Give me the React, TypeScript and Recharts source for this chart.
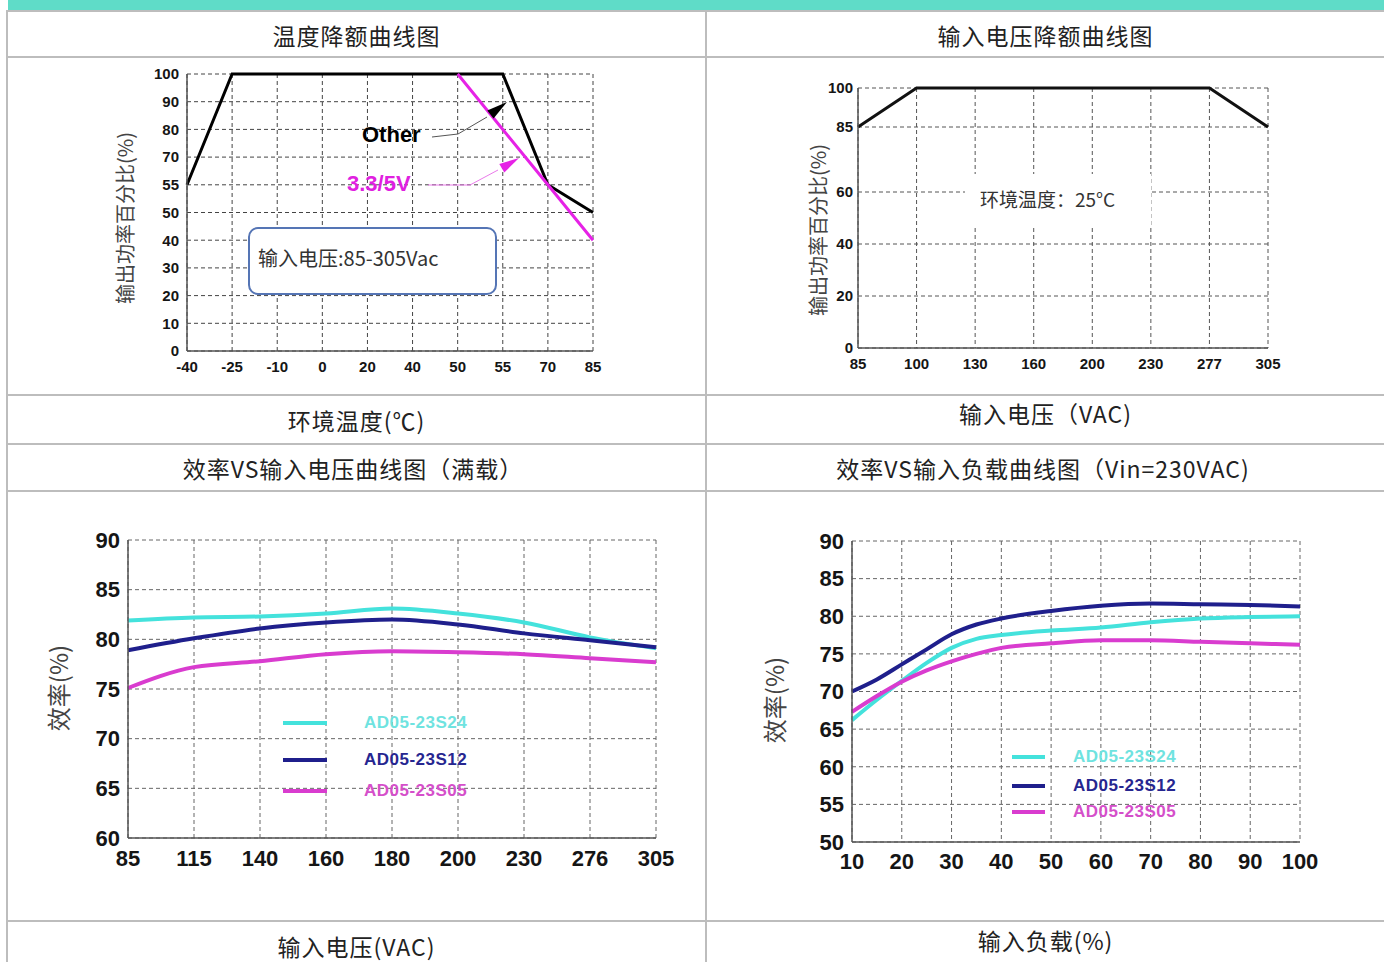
import React from "react";
import { CartesianGrid, Line, LineChart, XAxis, YAxis } from "recharts";

// 温度降额曲线图
const tempTicks = [-40, -25, -10, 0, 20, 40, 50, 55, 70, 85];
// the original labels the 60 gridline "55"; values below are read on that uniform grid
const tempYTicks = [0, 10, 20, 30, 40, 50, 60, 70, 80, 90, 100];
const tempYLabels = ["0", "10", "20", "30", "40", "50", "55", "70", "80", "90", "100"];
const tempOther = [60, 100, 100, 100, 100, 100, 100, 100, 60, 50];
const temp33 = [null, null, null, null, null, null, 100, null, 60, 40];

// 输入电压降额曲线图
const vinTicks = [85, 100, 130, 160, 200, 230, 277, 305];
const vinYTicks = [0, 20, 40, 60, 85, 100];
const vinPower = [85, 100, 100, 100, 100, 100, 100, 85];

// 效率VS输入电压
const effVinTicks = [85, 115, 140, 160, 180, 200, 230, 276, 305];
const effVinYTicks = [60, 65, 70, 75, 80, 85, 90];
const effVin24 = [81.9, 82.2, 82.3, 82.6, 83.1, 82.6, 81.7, 80.2, 79.1];
const effVin12 = [78.9, 80.1, 81.1, 81.7, 82.0, 81.5, 80.6, 79.9, 79.2];
const effVin05 = [75.1, 77.2, 77.8, 78.5, 78.8, 78.7, 78.5, 78.1, 77.7];

// 效率VS输入负载
const loadX = [10, 15, 20, 25, 30, 35, 40, 50, 60, 70, 80, 90, 100];
const loadTicks = [10, 20, 30, 40, 50, 60, 70, 80, 90, 100];
const loadYTicks = [50, 55, 60, 65, 70, 75, 80, 85, 90];
const load24 = [66.2, 68.9, 71.4, 73.8, 75.8, 77.0, 77.5, 78.1, 78.5, 79.2, 79.7, 79.9, 80.0];
const load12 = [70.0, 71.6, 73.6, 75.6, 77.6, 78.9, 79.7, 80.7, 81.4, 81.7, 81.6, 81.5, 81.3];
const load05 = [67.3, 69.4, 71.3, 72.8, 74.0, 75.0, 75.8, 76.4, 76.8, 76.8, 76.6, 76.4, 76.2];

const series = [
  { key: "s24", name: "AD05-23S24", color: "#44e2dc", text: "#6fe3e0" },
  { key: "s12", name: "AD05-23S12", color: "#1f1f8c", text: "#262690" },
  { key: "s05", name: "AD05-23S05", color: "#d93ccf", text: "#d54fca" },
];

const tempRows = tempTicks.map((t, i) => ({ t, other: tempOther[i], v33: temp33[i] }));
const vinRows = vinTicks.map((v, i) => ({ v, p: vinPower[i] }));
const effVinRows = effVinTicks.map((v, i) => ({ v, s24: effVin24[i], s12: effVin12[i], s05: effVin05[i] }));
const loadRows = loadX.map((l, i) => ({ l, s24: load24[i], s12: load12[i], s05: load05[i] }));

const BORDER = "#bdbdbd";
const cjk = "'Noto Sans CJK SC', 'Noto Sans', sans-serif";
const latin = "'Liberation Sans', Arial, sans-serif";

const smallTick = { fontSize: 15, fontWeight: 700, fill: "#151515", fontFamily: latin };
const bigTick = { fontSize: 22, fontWeight: 700, fill: "#151515", fontFamily: latin };
const axisLine = { stroke: "#555", strokeWidth: 1.5 };

function Cell({ left, width, top, text }: { left: number; width: number; top: number; text: string }) {
  return (
    <div
      style={{
        position: "absolute",
        left,
        width,
        top,
        textAlign: "center",
        fontFamily: cjk,
        fontSize: 23,
        lineHeight: "30px",
        color: "#222",
        letterSpacing: 1,
        whiteSpace: "nowrap",
      }}
    >
      {text}
    </div>
  );
}

function VTitle({ x, y, size, text }: { x: number; y: number; size: number; text: string }) {
  return (
    <div
      style={{
        position: "absolute",
        left: x,
        top: y,
        transform: "translate(-50%, -50%) rotate(-90deg)",
        fontFamily: cjk,
        fontSize: size,
        color: "#444",
        whiteSpace: "nowrap",
      }}
    >
      {text}
    </div>
  );
}

function Legend({ x, y, gaps, len, offset }: { x: number; y: number; gaps: number[]; len: number; offset: number }) {
  return (
    <>
      {series.map((s, i) => (
        <React.Fragment key={s.key}>
          <div
            style={{
              position: "absolute",
              left: x,
              top: y + gaps[i] - 2,
              width: len,
              height: 4,
              background: s.color,
            }}
          />
          <div
            style={{
              position: "absolute",
              left: x + offset,
              top: y + gaps[i] - 11,
              fontFamily: latin,
              fontWeight: 700,
              fontSize: 17,
              lineHeight: "22px",
              color: s.text,
              letterSpacing: 0.5,
            }}
          >
            {s.name}
          </div>
        </React.Fragment>
      ))}
    </>
  );
}

function TempChart() {
  return (
    <div style={{ position: "absolute", left: 140, top: 60 }}>
      <LineChart width={473} height={321} data={tempRows} margin={{ top: 14, right: 20, left: 0, bottom: 0 }}>
        <CartesianGrid stroke="#444" strokeDasharray="4 3" />
        <XAxis dataKey="t" type="category" scale="point" interval={0} height={30} tickLine={false} tickMargin={4} axisLine={axisLine} tick={smallTick} />
        <YAxis
          type="number"
          domain={[0, 100]}
          ticks={tempYTicks}
          interval={0}
          tickFormatter={(v: number) => tempYLabels[tempYTicks.indexOf(v)]}
          width={47}
          tickLine={false}
          axisLine={axisLine}
          tick={smallTick}
        />
        <Line type="linear" dataKey="other" stroke="#000" strokeWidth={3} dot={false} isAnimationActive={false} />
        <Line type="linear" dataKey="v33" stroke="#e622e6" strokeWidth={3} dot={false} connectNulls isAnimationActive={false} />
      </LineChart>
    </div>
  );
}

function VinChart() {
  return (
    <div style={{ position: "absolute", left: 808, top: 74 }}>
      <LineChart width={480} height={304} data={vinRows} margin={{ top: 14, right: 20, left: 0, bottom: 0 }}>
        <CartesianGrid stroke="#555" strokeDasharray="4 3" />
        <XAxis dataKey="v" type="category" scale="point" interval={0} height={30} tickLine={false} tickMargin={4} axisLine={axisLine} tick={smallTick} />
        <YAxis
          type="number"
          domain={[0, 100]}
          ticks={vinYTicks}
          interval={0}
          width={50}
          tickLine={false}
          tickSize={4}
          tickMargin={1}
          axisLine={axisLine}
          tick={smallTick}
        />
        <Line type="linear" dataKey="p" stroke="#111" strokeWidth={3} dot={false} isAnimationActive={false} />
      </LineChart>
    </div>
  );
}

function EffVinChart() {
  return (
    <div style={{ position: "absolute", left: 70, top: 526 }}>
      <LineChart width={616} height={352} data={effVinRows} margin={{ top: 14, right: 30, left: 0, bottom: 0 }}>
        <CartesianGrid stroke="#666" strokeDasharray="4 3" />
        <XAxis dataKey="v" type="category" scale="point" interval={0} height={40} tickLine={false} tickMargin={6} axisLine={axisLine} tick={bigTick} />
        <YAxis type="number" domain={[60, 90]} ticks={effVinYTicks} interval={0} width={58} tickLine={false} axisLine={axisLine} tick={bigTick} />
        {series.map((s) => (
          <Line key={s.key} type="monotone" dataKey={s.key} stroke={s.color} strokeWidth={4} dot={false} isAnimationActive={false} />
        ))}
      </LineChart>
    </div>
  );
}

function LoadChart() {
  return (
    <div style={{ position: "absolute", left: 790, top: 527 }}>
      <LineChart width={540} height={355} data={loadRows} margin={{ top: 14, right: 30, left: 0, bottom: 0 }}>
        <CartesianGrid stroke="#666" strokeDasharray="4 3" />
        <XAxis dataKey="l" type="number" domain={[10, 100]} ticks={loadTicks} interval={0} height={40} tickLine={false} tickMargin={5} axisLine={axisLine} tick={bigTick} />
        <YAxis type="number" domain={[50, 90]} ticks={loadYTicks} interval={0} width={62} tickLine={false} axisLine={axisLine} tick={bigTick} />
        {series.map((s) => (
          <Line key={s.key} type="monotone" dataKey={s.key} stroke={s.color} strokeWidth={4} dot={false} isAnimationActive={false} />
        ))}
      </LineChart>
    </div>
  );
}

export default function App() {
  const hLines = [10, 56, 394, 443, 490, 920];
  return (
    <div style={{ position: "absolute", left: 0, top: 0, width: 1384, height: 962, overflow: "hidden", background: "#fff" }}>
      {/* table frame */}
      <div style={{ position: "absolute", left: 8, top: 0, width: 1376, height: 10, background: "#5fdcc8" }} />
      {hLines.map((y) => (
        <div key={y} style={{ position: "absolute", left: 7, top: y, width: 1377, height: 2, background: BORDER }} />
      ))}
      <div style={{ position: "absolute", left: 6, top: 10, width: 2, height: 952, background: BORDER }} />
      <div style={{ position: "absolute", left: 705, top: 10, width: 2, height: 952, background: BORDER }} />

      <Cell left={8} width={697} top={20} text="温度降额曲线图" />
      <Cell left={707} width={677} top={20} text="输入电压降额曲线图" />
      <Cell left={8} width={697} top={405} text="环境温度(℃)" />
      <Cell left={707} width={677} top={398} text="输入电压（VAC)" />
      <Cell left={8} width={690} top={453} text="效率VS输入电压曲线图（满载）" />
      <Cell left={707} width={672} top={453} text="效率VS输入负载曲线图（Vin=230VAC)" />
      <Cell left={8} width={697} top={931} text="输入电压(VAC)" />
      <Cell left={707} width={677} top={925} text="输入负载(%)" />

      <TempChart />
      <VinChart />
      <EffVinChart />
      <LoadChart />

      <VTitle x={124} y={218} size={20} text="输出功率百分比(%)" />
      <VTitle x={817} y={230} size={20} text="输出功率百分比(%)" />
      <VTitle x={57} y={688} size={24} text="效率(%)" />
      <VTitle x={773} y={700} size={24} text="效率(%)" />

      {/* chart 1 annotations */}
      <div
        style={{
          position: "absolute",
          left: 248,
          top: 227,
          width: 237,
          height: 64,
          border: "2px solid #5575b5",
          borderRadius: 10,
          background: "#fff",
          fontFamily: cjk,
          fontSize: 20,
          color: "#333",
          lineHeight: "64px",
          paddingLeft: 8,
          boxSizing: "content-box",
          whiteSpace: "nowrap",
        }}
      >
        <span style={{ position: "relative", top: -3 }}>输入电压:85-305Vac</span>
      </div>
      <div style={{ position: "absolute", left: 362, top: 122, fontFamily: latin, fontWeight: 700, fontSize: 22, color: "#000" }}>Other</div>
      <div style={{ position: "absolute", left: 347, top: 171, fontFamily: latin, fontWeight: 700, fontSize: 22, color: "#e020e0" }}>3.3/5V</div>

      {/* chart 2 annotation */}
      <div style={{ position: "absolute", left: 965, top: 174, width: 186, height: 52, background: "#fff" }} />
      <div style={{ position: "absolute", left: 980, top: 186, fontFamily: cjk, fontSize: 19, color: "#333", lineHeight: "26px" }}>
        环境温度：25°C
      </div>

      <Legend x={283} y={723} gaps={[0, 37, 68]} len={44} offset={81} />
      <Legend x={1012} y={757} gaps={[0, 29, 55]} len={33} offset={61} />

      <svg width={1384} height={962} style={{ position: "absolute", left: 0, top: 0, pointerEvents: "none" }}>
        <polyline points="432,137 458,134 487,117" fill="none" stroke="#555" strokeWidth={1} />
        <polygon points="507,102 493.5,118.4 487.3,110.6" fill="#000" />
        <polyline points="428,185 470,185 498,170" fill="none" stroke="#ea7aea" strokeWidth={1} />
        <polygon points="519,158 504.3,172.5 499.3,163.9" fill="#e622e6" />
      </svg>
    </div>
  );
}
